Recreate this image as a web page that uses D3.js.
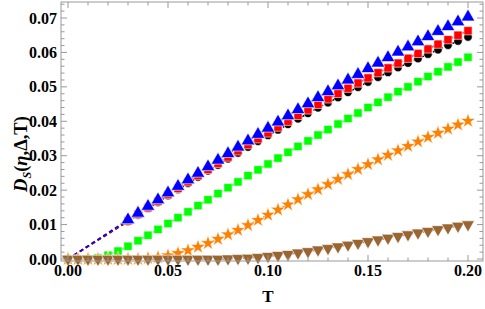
<!DOCTYPE html>
<html><head><meta charset="utf-8">
<script src="https://cdn.jsdelivr.net/npm/d3@7"></script>
<style>body{margin:0;background:#fff}svg{display:block}</style>
</head><body>
<svg id="c" width="485" height="309"></svg>
<script>
// T grid for the high-series (markers start at 0.03; line starts at origin)
const tHigh = [0,0.03,0.035,0.04,0.045,0.05,0.055,0.06,0.065,0.07,0.075,0.08,0.085,0.09,0.095,0.10,0.105,0.11,0.115,0.12,0.125,0.13,0.135,0.14,0.145,0.15,0.155,0.16,0.165,0.17,0.175,0.18,0.185,0.19,0.195,0.20];
const tFull = [0,0.005,0.01,0.015,0.02,0.025,0.03,0.035,0.04,0.045,0.05,0.055,0.06,0.065,0.07,0.075,0.08,0.085,0.09,0.095,0.10,0.105,0.11,0.115,0.12,0.125,0.13,0.135,0.14,0.145,0.15,0.155,0.16,0.165,0.17,0.175,0.18,0.185,0.19,0.195,0.20];

const blackVals = [0,0.0109,0.0128,0.0147,0.0165,0.0184,0.0202,0.0220,0.0238,0.0256,0.0273,0.0291,0.0308,0.0325,0.0342,0.0359,0.0375,0.0391,0.0407,0.0423,0.0439,0.0454,0.0469,0.0484,0.0499,0.0514,0.0528,0.0542,0.0556,0.0569,0.0582,0.0595,0.0608,0.0621,0.0633,0.0645];
const redVals = [0,0.0111,0.0130,0.0149,0.0168,0.0187,0.0205,0.0224,0.0242,0.0260,0.0278,0.0296,0.0314,0.0332,0.0349,0.0366,0.0383,0.0400,0.0417,0.0433,0.0449,0.0465,0.0481,0.0496,0.0511,0.0526,0.0541,0.0555,0.0569,0.0583,0.0597,0.0610,0.0624,0.0637,0.0650,0.0663];
const blueVals = [0,0.0114,0.0133,0.0153,0.0172,0.0192,0.0211,0.0230,0.0249,0.0268,0.0287,0.0306,0.0325,0.0343,0.0362,0.0380,0.0398,0.0416,0.0434,0.0451,0.0469,0.0486,0.0503,0.0520,0.0536,0.0553,0.0569,0.0585,0.0601,0.0616,0.0631,0.0646,0.0661,0.0675,0.0689,0.0703];
const greenVals = [0,0,0,0.0003,0.0011,0.0023,0.0037,0.0053,0.0069,0.0086,0.0103,0.0120,0.0137,0.0155,0.0172,0.0190,0.0207,0.0224,0.0242,0.0259,0.0276,0.0293,0.0310,0.0327,0.0343,0.0360,0.0376,0.0392,0.0408,0.0424,0.0440,0.0455,0.0470,0.0486,0.0500,0.0515,0.0530,0.0544,0.0558,0.0572,0.0586];
const orangeVals = [0,0,0,0,0,0,0,0,0.0002,0.0005,0.0010,0.0017,0.0025,0.0035,0.0046,0.0058,0.0071,0.0084,0.0098,0.0113,0.0128,0.0143,0.0158,0.0173,0.0188,0.0202,0.0217,0.0232,0.0246,0.0261,0.0275,0.0289,0.0302,0.0315,0.0328,0.0341,0.0354,0.0366,0.0378,0.0390,0.0401];
const brownVals = [0,0,0,0,0,0,0,0,0,0,0,0,0,0,0,0,0.0001,0.0002,0.0003,0.0005,0.0008,0.0011,0.0014,0.0018,0.0022,0.0027,0.0031,0.0036,0.0041,0.0046,0.0051,0.0056,0.0061,0.0066,0.0071,0.0076,0.0081,0.0086,0.0091,0.0096,0.0100];

const xTicks = [0,0.05,0.10,0.15,0.20];
const xTickLabels = ["0.00","0.05","0.10","0.15","0.20"];
const yTicks = [0,0.01,0.02,0.03,0.04,0.05,0.06,0.07];
const yTickLabels = ["0.00","0.01","0.02","0.03","0.04","0.05","0.06","0.07"];

const series = [
  {t:tHigh, v:blackVals, color:"#000000", shape:"circle", skipFirst:true},
  {t:tHigh, v:redVals, color:"#ff0000", shape:"square", skipFirst:true},
  {t:tHigh, v:blueVals, color:"#0000ff", shape:"triUp", skipFirst:true},
  {t:tFull, v:greenVals, color:"#00ff00", shape:"square", skipFirst:false},
  {t:tFull, v:orangeVals, color:"#ff8000", shape:"star", skipFirst:false},
  {t:tFull, v:brownVals, color:"#996633", shape:"triDown", skipFirst:false}
];

const svg = d3.select("#c");
const L=61, R=483, T=2, B=261;
const x = d3.scaleLinear().domain([0,0.2]).range([68,468]);
const y = d3.scaleLinear().domain([0,0.07]).range([259,18]);

const g = svg.append("g");
const line = d3.line().x(d=>x(d[0])).y(d=>y(d[1]));
series.forEach(s=>{
  const pts = s.t.map((t,i)=>[t,s.v[i]]);
  g.append("path").attr("d",line(pts)).attr("fill","none")
   .attr("stroke",s.color).attr("stroke-width",1.6).attr("stroke-dasharray","4,3");
});
const sym = {
  circle: d3.symbol().type(d3.symbolCircle).size(56),
  square: d3.symbol().type(d3.symbolSquare).size(68),
  triUp: d3.symbol().type(d3.symbolTriangle).size(80),
  triDown: d3.symbol().type(d3.symbolTriangle).size(72),
  star: d3.symbol().type(d3.symbolStar).size(70)
};
series.forEach(s=>{
  s.t.forEach((t,i)=>{
    if(s.skipFirst && i===0) return;
    const px=x(t), py=y(s.v[i]);
    let tr = `translate(${px},${py})`;
    if(s.shape==="triDown") tr += " rotate(180)";
    g.append("path").attr("d",sym[s.shape]()).attr("transform",tr)
     .attr("fill",s.color).attr("stroke","#fff").attr("stroke-width",0.6);
  });
});

// frame
const fc="#999";
svg.append("rect").attr("x",L).attr("y",T).attr("width",R-L).attr("height",B-T)
  .attr("fill","none").attr("stroke",fc).attr("stroke-width",1);
const xMinor = d3.range(0,0.2001,0.01);
xMinor.forEach(v=>{
  const major = xTicks.some(m=>Math.abs(m-v)<1e-9);
  const len = major?6:3.5;
  svg.append("line").attr("x1",x(v)).attr("x2",x(v)).attr("y1",B).attr("y2",B-len).attr("stroke",fc);
  svg.append("line").attr("x1",x(v)).attr("x2",x(v)).attr("y1",T).attr("y2",T+len).attr("stroke",fc);
});
const yMinor = d3.range(0,0.0741,0.002);
yMinor.forEach(v=>{
  const major = yTicks.some(m=>Math.abs(m-v)<1e-9);
  const len = major?6:3.5;
  svg.append("line").attr("y1",y(v)).attr("y2",y(v)).attr("x1",L).attr("x2",L+len).attr("stroke",fc);
  svg.append("line").attr("y1",y(v)).attr("y2",y(v)).attr("x1",R).attr("x2",R-len).attr("stroke",fc);
});
const font = "'Liberation Serif','Times New Roman',serif";
xTicks.forEach((v,i)=>{
  svg.append("text").attr("x",x(v)).attr("y",276).attr("text-anchor","middle")
   .attr("font-family",font).attr("font-weight","bold").attr("font-size",16).text(xTickLabels[i]);
});
yTicks.forEach((v,i)=>{
  svg.append("text").attr("x",57).attr("y",y(v)+5.5).attr("text-anchor","end")
   .attr("font-family",font).attr("font-weight","bold").attr("font-size",16).text(yTickLabels[i]);
});
svg.append("text").attr("x",268).attr("y",302).attr("text-anchor","middle")
 .attr("font-family",font).attr("font-weight","bold").attr("font-size",17).text("T");
const yl = svg.append("text").attr("transform","translate(27,154) rotate(-90)").attr("text-anchor","middle")
 .attr("font-family",font).attr("font-weight","bold").attr("font-size",18.5);
yl.append("tspan").attr("font-style","italic").text("D");
yl.append("tspan").attr("font-style","italic").attr("font-size",12).attr("dy",4).text("S");
yl.append("tspan").attr("dy",-4).text("(");
yl.append("tspan").attr("font-style","italic").text("η");
yl.append("tspan").text(",Δ,T)");
</script>
</body></html>
